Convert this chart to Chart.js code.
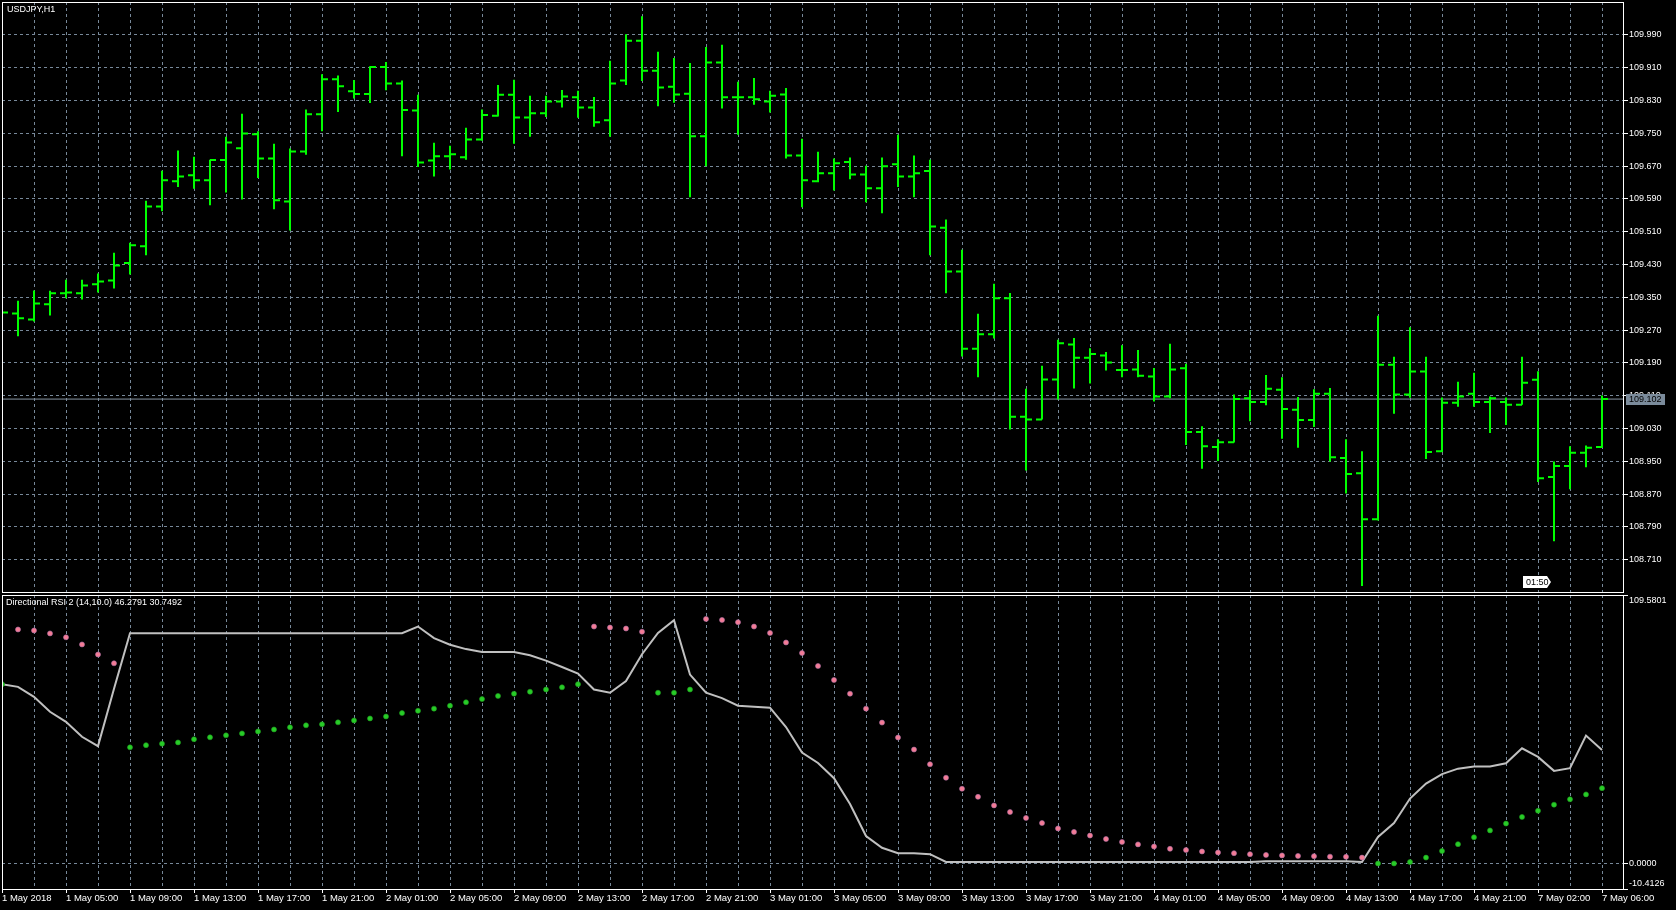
<!DOCTYPE html>
<html>
<head>
<meta charset="utf-8">
<script src="https://cdn.jsdelivr.net/npm/chart.js@4.4.1/dist/chart.umd.min.js"></script>
<style>
  html, body { margin: 0; padding: 0; background: #000; }
  body { width: 1676px; height: 910px; position: relative; overflow: hidden; }
  canvas { position: absolute; left: 0; }
  #price-chart { top: 0; }
  #rsi-chart { top: 594px; }
</style>
</head>
<body>
<canvas id="price-chart" width="1676" height="594"></canvas>
<canvas id="rsi-chart" width="1676" height="316"></canvas>
<script>
// USDJPY H1 bars, 1 May 2018 00:00 .. 7 May 06:00
const opens = [
  109.305, 109.311, 109.296, 109.333, 109.360, 109.360, 109.382, 109.391, 109.434, 109.475,
  109.572, 109.633, 109.648, 109.636, 109.685, 109.714, 109.748, 109.689, 109.584, 109.706,
  109.797, 109.882, 109.853, 109.846, 109.912, 109.872, 109.806, 109.684, 109.694, 109.692,
  109.735, 109.793, 109.844, 109.789, 109.799, 109.828, 109.838, 109.813, 109.782, 109.879,
  109.976, 109.903, 109.864, 109.847, 109.743, 109.923, 109.838, 109.838, 109.828, 109.845,
  109.696, 109.633, 109.653, 109.680, 109.650, 109.616, 109.675, 109.645, 109.658, 109.520,
  109.413, 109.225, 109.260, 109.348, 109.059, 109.052, 109.150, 109.235, 109.203, 109.208,
  109.173, 109.174, 109.157, 109.108, 109.177, 109.022, 108.985, 108.997, 109.104, 109.095,
  109.125, 109.076, 109.051, 109.115, 108.958, 108.921, 108.809, 109.186, 109.113, 109.169,
  108.975, 109.093, 109.115, 109.095, 109.095, 109.088, 109.149, 108.912, 108.939, 108.971,
  108.985
];
const highs = [
  109.330, 109.342, 109.367, 109.366, 109.393, 109.393, 109.408, 109.459, 109.483, 109.586,
  109.659, 109.708, 109.693, 109.686, 109.742, 109.798, 109.755, 109.725, 109.713, 109.808,
  109.894, 109.891, 109.880, 109.914, 109.924, 109.879, 109.844, 109.727, 109.720, 109.764,
  109.808, 109.868, 109.881, 109.842, 109.842, 109.856, 109.854, 109.839, 109.927, 109.992,
  110.036, 109.949, 109.934, 109.922, 109.961, 109.966, 109.876, 109.885, 109.854, 109.861,
  109.737, 109.705, 109.689, 109.691, 109.671, 109.691, 109.747, 109.696, 109.686, 109.540,
  109.466, 109.310, 109.383, 109.361, 109.127, 109.183, 109.247, 109.251, 109.226, 109.217,
  109.233, 109.222, 109.178, 109.237, 109.188, 109.036, 109.004, 109.113, 109.124, 109.161,
  109.155, 109.107, 109.126, 109.129, 109.004, 108.975, 109.305, 109.205, 109.277, 109.205,
  109.106, 109.144, 109.166, 109.108, 109.106, 109.205, 109.170, 108.950, 108.987, 108.989,
  109.111
];
const lows = [
  109.285, 109.255, 109.291, 109.306, 109.348, 109.345, 109.362, 109.372, 109.406, 109.453,
  109.560, 109.619, 109.615, 109.575, 109.606, 109.589, 109.641, 109.565, 109.513, 109.698,
  109.755, 109.802, 109.835, 109.824, 109.855, 109.694, 109.668, 109.645, 109.662, 109.686,
  109.732, 109.791, 109.725, 109.742, 109.790, 109.813, 109.788, 109.766, 109.742, 109.868,
  109.878, 109.816, 109.825, 109.594, 109.670, 109.811, 109.747, 109.820, 109.801, 109.689,
  109.570, 109.631, 109.611, 109.638, 109.582, 109.555, 109.619, 109.594, 109.453, 109.360,
  109.206, 109.155, 109.250, 109.028, 108.928, 109.052, 109.101, 109.128, 109.140, 109.172,
  109.155, 109.155, 109.096, 109.104, 108.990, 108.932, 108.951, 108.996, 109.048, 109.087,
  109.005, 108.983, 109.034, 108.950, 108.872, 108.646, 108.806, 109.066, 109.105, 108.956,
  108.973, 109.083, 109.083, 109.019, 109.039, 109.088, 108.900, 108.755, 108.882, 108.936,
  108.983
];
const closes = [
  109.313, 109.299, 109.335, 109.360, 109.362, 109.379, 109.389, 109.428, 109.477, 109.572,
  109.636, 109.645, 109.636, 109.685, 109.728, 109.750, 109.689, 109.587, 109.706, 109.797,
  109.882, 109.865, 109.846, 109.912, 109.872, 109.807, 109.679, 109.694, 109.699, 109.735,
  109.795, 109.844, 109.789, 109.799, 109.828, 109.840, 109.813, 109.777, 109.872, 109.976,
  109.903, 109.862, 109.845, 109.743, 109.923, 109.838, 109.838, 109.833, 109.842, 109.696,
  109.636, 109.653, 109.677, 109.650, 109.616, 109.670, 109.645, 109.653, 109.523, 109.413,
  109.225, 109.260, 109.348, 109.059, 109.052, 109.150, 109.238, 109.203, 109.212, 109.191,
  109.173, 109.159, 109.108, 109.174, 109.022, 108.987, 108.997, 109.102, 109.095, 109.127,
  109.078, 109.051, 109.115, 108.960, 108.919, 108.809, 109.186, 109.113, 109.169, 108.973,
  109.093, 109.108, 109.095, 109.104, 109.088, 109.142, 108.909, 108.939, 108.971, 108.983,
  109.102
];

// Directional RSI 2 (14,10.0): main line plus the two dot series
const rsiLine = [
  73.2, 72.1, 68.0, 61.9, 57.8, 51.7, 47.9, 71.3, 94.0, 94.0,
  94.0, 94.0, 94.0, 94.0, 94.0, 94.0, 94.0, 94.0, 94.0, 94.0,
  94.0, 94.0, 94.0, 94.0, 94.0, 94.0, 96.7, 92.0, 89.3, 87.5,
  86.3, 86.3, 86.3, 85.0, 82.8, 80.2, 77.5, 71.0, 69.7, 74.5,
  85.4, 94.1, 99.3, 77.1, 69.7, 67.5, 64.4, 64.0, 63.6, 55.7,
  45.3, 41.0, 34.8, 24.3, 11.2, 6.4, 4.2, 4.2, 3.8, 0.6,
  0.6, 0.6, 0.6, 0.6, 0.6, 0.6, 0.6, 0.6, 0.6, 0.6,
  0.6, 0.6, 0.6, 0.6, 0.6, 0.6, 0.6, 0.6, 0.6, 0.9,
  0.9, 0.9, 0.9, 0.9, 0.9, 0.6, 10.8, 16.5, 26.5, 32.6,
  36.5, 38.7, 39.6, 39.6, 40.9, 47.0, 43.5, 37.8, 38.9, 52.2,
  46.3
];
const dotsDown = [
  null, 95.5, 95.1, 93.9, 92.3, 89.4, 85.3, 81.7, null, null,
  null, null, null, null, null, null, null, null, null, null,
  null, null, null, null, null, null, null, null, null, null,
  null, null, null, null, null, null, null, 96.7, 96.3, 95.9,
  94.6, null, null, null, 99.8, 99.4, 98.5, 96.7, 94.1, 90.2,
  85.9, 80.6, 74.9, 69.3, 63.2, 57.5, 51.4, 46.5, 40.5, 35.0,
  30.5, 27.2, 23.7, 21.0, 18.6, 16.5, 14.3, 12.9, 11.4, 10.0,
  8.8, 7.8, 6.9, 6.0, 5.5, 4.9, 4.5, 4.2, 3.8, 3.5,
  3.3, 3.1, 3.0, 2.8, 2.7, 2.4, null, null, null, null,
  null, null, null, null, null, null, null, null, null, null,
  null
];
const dotsUp = [
  73.2, null, null, null, null, null, null, null, 47.4, 48.3,
  48.9, 49.4, 50.7, 51.5, 52.3, 53.1, 53.9, 54.7, 55.6, 56.4,
  56.8, 57.6, 58.4, 59.2, 60.0, 61.4, 62.3, 63.2, 64.4, 65.8,
  67.1, 68.4, 69.3, 70.1, 71.0, 71.9, 73.2, null, null, null,
  null, 69.7, 69.7, 71.0, null, null, null, null, null, null,
  null, null, null, null, null, null, null, null, null, null,
  null, null, null, null, null, null, null, null, null, null,
  null, null, null, null, null, null, null, null, null, null,
  null, null, null, null, null, null, 0.0, 0.0, 0.6, 2.4,
  5.1, 7.9, 10.7, 13.5, 16.3, 19.0, 21.5, 24.0, 26.2, 28.2,
  30.75
];

// one label every 4 bars
const timeLabels = [
  '1 May 2018', '1 May 05:00', '1 May 09:00', '1 May 13:00', '1 May 17:00', '1 May 21:00',
  '2 May 01:00', '2 May 05:00', '2 May 09:00', '2 May 13:00', '2 May 17:00', '2 May 21:00',
  '3 May 01:00', '3 May 05:00', '3 May 09:00', '3 May 13:00', '3 May 17:00', '3 May 21:00',
  '4 May 01:00', '4 May 05:00', '4 May 09:00', '4 May 13:00', '4 May 17:00', '4 May 21:00',
  '7 May 02:00', '7 May 06:00'
];
const priceTicks = [108.71, 108.79, 108.87, 108.95, 109.03, 109.11, 109.19, 109.27, 109.35,
  109.43, 109.51, 109.59, 109.67, 109.75, 109.83, 109.91, 109.99];
const rsiMin = -10.4126;
const rsiMax = 109.5801;
const symbolTitle = 'USDJPY,H1';
const rsiTitle = 'Directional RSI 2 (14,10.0) 46.2791 30.7492';
const timerText = '01:50';

const GRID = '#778899';
const FONT_FAMILY = '"Liberation Sans", Arial, sans-serif';
const X_MAX = 1621 / 16;   // 16px per bar across the plot
const TICK = 0.375;         // open/close tick length in bars

function evenTicks(scale) {
  const t = [];
  for (let v = 0; v < closes.length; v += 2) t.push({ value: v });
  scale.ticks = t;
}

// OHLC bars as one broken line: high-low stem, open tick left, close tick right
function ohlcPoints() {
  const pts = [];
  for (let i = 0; i < closes.length; i++) {
    pts.push({ x: i, y: lows[i] }, { x: i, y: highs[i] }, { x: i, y: null });
    pts.push({ x: i - TICK, y: opens[i] }, { x: i, y: opens[i] }, { x: i, y: null });
    pts.push({ x: i, y: closes[i] }, { x: i + TICK, y: closes[i] }, { x: i, y: null });
  }
  return pts;
}
const toXY = arr => arr.map((v, i) => ({ x: i, y: v }));

const framePlugin = {
  id: 'frame',
  afterDraw(chart) {
    const { ctx, chartArea: a } = chart;
    ctx.save();
    ctx.strokeStyle = '#ffffff';
    ctx.lineWidth = 1;
    ctx.strokeRect(a.left + 0.5, a.top + 0.5, a.right - a.left, a.bottom - a.top);
    ctx.restore();
  }
};

const priceExtras = {
  id: 'priceExtras',
  afterDraw(chart) {
    const { ctx } = chart;
    const y = chart.scales.y;
    const x = chart.scales.x;
    ctx.save();
    ctx.font = '9px ' + FONT_FAMILY;
    ctx.textBaseline = 'middle';
    ctx.fillStyle = '#ffffff';
    ctx.fillText(symbolTitle, 7, 10);

    // current price marker on the axis
    const last = closes[closes.length - 1];
    const py = Math.round(y.getPixelForValue(last));
    ctx.fillStyle = '#7b8b9b';
    ctx.fillRect(chart.chartArea.right + 3, py - 5, 39, 11);
    ctx.fillStyle = '#000000';
    ctx.fillText(last.toFixed(3), chart.chartArea.right + 6, py + 0.5);

    // bar timer
    const tx = Math.round(x.getPixelForValue(96.8));
    const ty = chart.chartArea.bottom - 10;
    ctx.fillStyle = '#ffffff';
    ctx.beginPath();
    ctx.moveTo(tx - 28, ty - 6);
    ctx.lineTo(tx - 4, ty - 6);
    ctx.lineTo(tx, ty);
    ctx.lineTo(tx - 4, ty + 6);
    ctx.lineTo(tx - 28, ty + 6);
    ctx.closePath();
    ctx.fill();
    ctx.fillStyle = '#000000';
    ctx.fillText(timerText, tx - 25, ty + 0.5);
    ctx.restore();
  }
};

const rsiExtras = {
  id: 'rsiExtras',
  afterDraw(chart) {
    const { ctx } = chart;
    ctx.save();
    ctx.font = '9px ' + FONT_FAMILY;
    ctx.textBaseline = 'middle';
    ctx.fillStyle = '#ffffff';
    ctx.fillText(rsiTitle, 6, 9);
    ctx.restore();
  }
};

const tickFont = { family: FONT_FAMILY, size: 9 };

new Chart(document.getElementById('price-chart').getContext('2d'), {
  type: 'line',
  data: {
    datasets: [
      {
        label: 'USDJPY',
        data: ohlcPoints(),
        borderColor: '#00ff00',
        borderWidth: 2,
        pointRadius: 0,
        spanGaps: false
      },
      {
        label: 'Bid',
        data: [{ x: 0, y: closes[closes.length - 1] }, { x: X_MAX, y: closes[closes.length - 1] }],
        borderColor: '#8895a3',
        borderWidth: 1,
        pointRadius: 0
      }
    ]
  },
  options: {
    responsive: false,
    animation: false,
    devicePixelRatio: 1,
    events: [],
    layout: { autoPadding: false, padding: { left: 2, top: 2, right: 0, bottom: 2 } },
    plugins: { legend: { display: false }, tooltip: { enabled: false } },
    scales: {
      x: {
        type: 'linear',
        min: 0,
        max: X_MAX,
        afterBuildTicks: evenTicks,
        afterFit: s => { s.height = 0; s.paddingLeft = 0; s.paddingRight = 0; },
        ticks: { display: false },
        grid: { color: GRID, drawTicks: false },
        border: { display: false, dash: [3, 3] }
      },
      y: {
        position: 'right',
        min: 109.99 - 557 / 410,
        max: 109.99 + 33 / 410,
        afterBuildTicks: s => { s.ticks = priceTicks.map(v => ({ value: v })); },
        afterFit: s => { s.width = 53; s.paddingTop = 0; s.paddingBottom = 0; },
        ticks: {
          color: '#ffffff',
          font: tickFont,
          padding: 1,
          autoSkip: false,
          callback: v => v.toFixed(3)
        },
        grid: { color: GRID, tickColor: '#ffffff', tickLength: 5 },
        border: { display: false, dash: [3, 3] }
      }
    }
  },
  plugins: [framePlugin, priceExtras]
});

new Chart(document.getElementById('rsi-chart').getContext('2d'), {
  type: 'line',
  data: {
    datasets: [
      {
        label: 'Down',
        data: toXY(dotsDown),
        showLine: false,
        pointRadius: 2.5,
        pointBackgroundColor: '#f47c95',
        pointBorderColor: '#b071a8',
        pointBorderWidth: 0.6
      },
      {
        label: 'Up',
        data: toXY(dotsUp),
        showLine: false,
        pointRadius: 2.5,
        pointBackgroundColor: '#28cc28',
        pointBorderColor: '#1e9e1e',
        pointBorderWidth: 0.6
      },
      {
        label: 'RSI',
        data: toXY(rsiLine),
        borderColor: '#c0c0c0',
        borderWidth: 2,
        pointRadius: 0
      }
    ]
  },
  options: {
    responsive: false,
    animation: false,
    devicePixelRatio: 1,
    events: [],
    layout: { autoPadding: false, padding: { left: 2, top: 1, right: 0, bottom: 0 } },
    plugins: { legend: { display: false }, tooltip: { enabled: false } },
    scales: {
      x: {
        type: 'linear',
        min: 0,
        max: X_MAX,
        afterBuildTicks: evenTicks,
        afterFit: s => { s.height = 21; s.paddingLeft = 0; s.paddingRight = 0; },
        ticks: {
          color: '#ffffff',
          font: { family: FONT_FAMILY, size: 9.5 },
          padding: 0,
          align: 'start',
          maxRotation: 0,
          autoSkip: false,
          callback: v => (v % 4 === 0 ? timeLabels[v / 4] : '')
        },
        grid: {
          color: GRID,
          tickLength: 4,
          tickColor: c => (c.tick && c.tick.value % 4 === 0 ? '#ffffff' : 'rgba(0,0,0,0)')
        },
        border: { display: false, dash: [3, 3] }
      },
      y: {
        position: 'right',
        min: rsiMin,
        max: rsiMax,
        afterBuildTicks: s => { s.ticks = [{ value: rsiMin }, { value: 0 }, { value: rsiMax }]; },
        afterFit: s => { s.width = 53; s.paddingTop = 0; s.paddingBottom = 0; },
        ticks: {
          color: '#ffffff',
          font: tickFont,
          padding: 1,
          autoSkip: false,
          callback: v => {
            if (v === rsiMax) return ['', rsiMax.toFixed(4)];
            if (v === rsiMin) return [rsiMin.toFixed(4), ''];
            return v.toFixed(4);
          }
        },
        grid: {
          color: c => (c.tick && c.tick.value === 0 ? GRID : 'rgba(0,0,0,0)'),
          tickColor: '#ffffff',
          tickLength: 5
        },
        border: { display: false, dash: [3, 3] }
      }
    }
  },
  plugins: [framePlugin, rsiExtras]
});
</script>
</body>
</html>
